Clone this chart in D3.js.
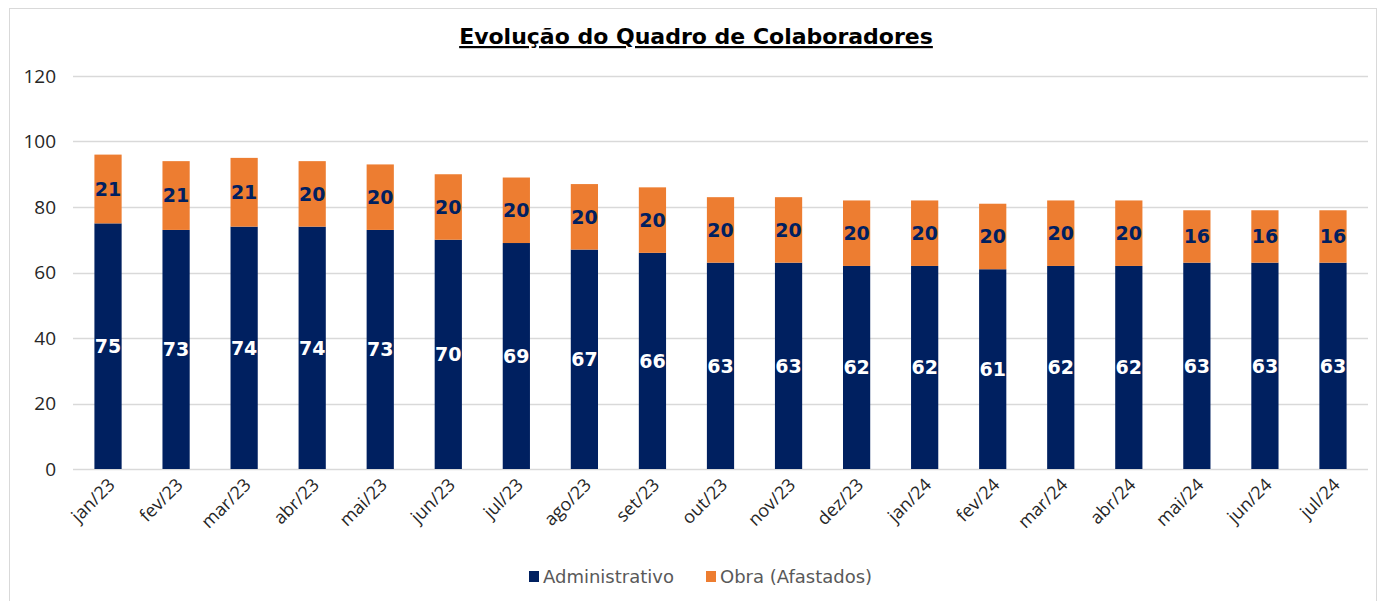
<!DOCTYPE html>
<html>
<head>
<meta charset="utf-8">
<script src="https://cdn.jsdelivr.net/npm/d3@7"></script>
<style>
  body { margin: 0; background: #fff; }
  svg { display: block; font-family: "DejaVu Sans", Verdana, sans-serif; }
</style>
</head>
<body>
<div id="chart"></div>
<script>
const months = ["jan/23","fev/23","mar/23","abr/23","mai/23","jun/23","jul/23","ago/23","set/23","out/23","nov/23","dez/23","jan/24","fev/24","mar/24","abr/24","mai/24","jun/24","jul/24"];
const administrativo = [75,73,74,74,73,70,69,67,66,63,63,62,62,61,62,62,63,63,63];
const obra = [21,21,21,20,20,20,20,20,20,20,20,20,20,20,20,20,16,16,16];
const yTicks = [0,20,40,60,80,100,120];
const seriesNames = ["Administrativo", "Obra (Afastados)"];
const colors = ["#002060", "#ED7D31"];

const width = 1382, height = 601;
const margin = { top: 76, right: 15, bottom: 132, left: 74 };

const svg = d3.select("#chart").append("svg")
  .attr("width", width)
  .attr("height", height);

// chart border
svg.append("rect")
  .attr("x", 9.5).attr("y", 8.5)
  .attr("width", 1367).attr("height", 600)
  .attr("fill", "none")
  .attr("stroke", "#d9d9d9");

const x = d3.scaleBand()
  .domain(months)
  .range([margin.left, width - margin.right])
  .paddingInner(0.6)
  .paddingOuter(0.3);

const y = d3.scaleLinear()
  .domain([0, 120])
  .range([height - margin.bottom, margin.top]);

// gridlines
svg.append("g")
  .selectAll("line")
  .data(yTicks)
  .enter().append("line")
  .attr("x1", margin.left - 1)
  .attr("x2", width - margin.right + 1)
  .attr("y1", d => Math.round(y(d)) + 0.5)
  .attr("y2", d => Math.round(y(d)) + 0.5)
  .attr("stroke", "#d9d9d9")
  .attr("stroke-width", 1.5);

// y axis labels
const yAxis = d3.axisLeft(y).tickValues(yTicks).tickSize(0).tickPadding(18);
const yg = svg.append("g")
  .attr("transform", `translate(${margin.left},0)`)
  .call(yAxis);
yg.select(".domain").remove();
yg.selectAll("text")
  .attr("font-size", 19)
  .attr("font-family", "'Open Sans', sans-serif")
  .attr("fill", "#262626");

// x axis labels
const xAxis = d3.axisBottom(x).tickSize(0).tickPadding(0);
const xg = svg.append("g")
  .attr("transform", `translate(0,${height - margin.bottom})`)
  .call(xAxis);
xg.select(".domain").remove();
xg.selectAll("text")
  .attr("font-size", 18)
  .attr("font-family", "'Open Sans', sans-serif")
  .attr("fill", "#262626")
  .attr("text-anchor", "end")
  .attr("dy", 0)
  .attr("transform", "translate(8,17) rotate(-45)");

// stacked data
const rows = months.map((m, i) => ({ month: m, adm: administrativo[i], obra: obra[i] }));
const stack = d3.stack().keys(["adm", "obra"]);
const stacked = stack(rows);

const layers = svg.append("g")
  .selectAll("g")
  .data(stacked)
  .enter().append("g")
  .attr("fill", (d, i) => colors[i]);

layers.selectAll("rect")
  .data(d => d)
  .enter().append("rect")
  .attr("x", d => x(d.data.month))
  .attr("y", d => y(d[1]))
  .attr("width", x.bandwidth())
  .attr("height", d => y(d[0]) - y(d[1]));

// value labels
stacked.forEach((layer, li) => {
  svg.append("g")
    .selectAll("text")
    .data(layer)
    .enter().append("text")
    .attr("x", d => x(d.data.month) + x.bandwidth() / 2)
    .attr("y", d => y((d[0] + d[1]) / 2))
    .attr("dy", "0.36em")
    .attr("text-anchor", "middle")
    .attr("font-size", 19)
    .attr("font-weight", "bold")
    .attr("fill", li === 0 ? "#ffffff" : "#002060")
    .text(d => d[1] - d[0]);
});

// title
svg.append("text")
  .attr("x", 696)
  .attr("y", 44)
  .attr("text-anchor", "middle")
  .attr("font-size", 22)
  .attr("font-weight", "bold")
  .attr("text-decoration", "underline")
  .attr("fill", "#000")
  .text("Evolução do Quadro de Colaboradores");

// legend
const legend = svg.append("g").attr("transform", "translate(529,577)");
const legendX = [0, 177];
seriesNames.forEach((name, i) => {
  const g = legend.append("g").attr("transform", `translate(${legendX[i]},0)`);
  g.append("rect")
    .attr("x", 0).attr("y", -6)
    .attr("width", 10).attr("height", 11)
    .attr("fill", colors[i]);
  g.append("text")
    .attr("x", 14)
    .attr("y", 0)
    .attr("dy", "0.35em")
    .attr("font-size", 18)
    .attr("fill", "#595959")
    .text(name);
});
</script>
</body>
</html>
